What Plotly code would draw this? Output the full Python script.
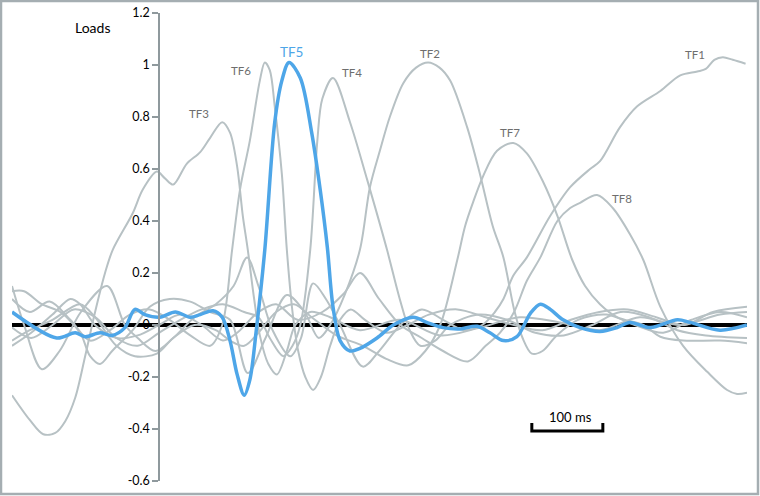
import plotly.graph_objects as go

# ---------------- data (time in ms, loads) ----------------
tf1_t = [-207,-190,-165,-140,-110,-73,-48,-30,-5,20,50,80,105,124,140,160,185,200,217,235,255,287,310,340,370,400,430,455,473,485,499,518,551,579,607,621,649,673,706,734,758,770,782,794,808,826]
tf1_v = [0.15,0.0,-0.17,-0.1,0.05,0.15,0.0,-0.05,-0.1,-0.05,0.03,0.08,0.15,0.26,0.15,-0.02,-0.12,-0.05,0.16,0.1,0.0,-0.16,-0.1,0.0,0.06,0.02,-0.02,0.0,0.05,0.1,0.19,0.26,0.42,0.53,0.6,0.63,0.76,0.84,0.9,0.96,0.975,0.985,1.02,1.03,1.02,1.005]

tf2_t = [-207,-190,-165,-139,-111,-97,-83,-66,-37,-13,15,44,72,100,125,150,180,205,225,241,262,283,297,311,325,344,362,379,395,410,434,452,470,485,500,512,525,540,560,590,630,670,710,750,790,828]
tf2_v = [0.13,0.13,0.08,0.05,-0.03,-0.12,-0.15,-0.1,-0.02,0.07,0.1,0.09,0.05,0.02,-0.185,-0.05,0.115,0.05,-0.05,0.0,0.12,0.29,0.53,0.67,0.8,0.93,0.99,1.01,0.99,0.94,0.76,0.58,0.38,0.26,0.06,-0.05,-0.11,-0.1,-0.04,0.02,0.04,0.0,-0.03,0.02,0.05,0.03]

tf3_t = [-207,-182,-163,-146,-132,-118,-104,-90,-76,-65,-37,-23,-3,8,20,39,58,72,89,100,110,118,125,134,142,154,166,180,192,213,241,283,339,396,452,508,565,621,677,734,790,828]
tf3_v = [-0.27,-0.365,-0.42,-0.415,-0.37,-0.28,-0.12,0.05,0.2,0.29,0.43,0.52,0.59,0.565,0.54,0.62,0.665,0.72,0.78,0.74,0.61,0.42,0.29,0.1,-0.04,-0.15,-0.19,-0.1,0.0,0.05,0.03,-0.02,0.02,-0.04,-0.01,0.03,0.01,-0.02,0.03,0.0,0.04,0.05]

tf4_t = [-207,-180,-150,-120,-90,-60,-30,0,30,60,90,120,140,156,175,188,199,213,223,230,245,269,293,321,339,353,368,389,410,450,490,530,570,610,650,690,730,770,828]
tf4_v = [-0.01,-0.05,0.0,0.06,0.03,-0.05,-0.08,-0.03,0.02,0.06,0.08,0.05,0.03,-0.05,-0.12,-0.08,0.0,0.29,0.71,0.87,0.95,0.78,0.56,0.29,0.1,-0.02,-0.08,-0.06,0.0,0.04,0.02,-0.03,-0.04,0.0,0.05,0.03,-0.02,-0.04,-0.05]

tf5_t = [-207,-144,-118,-104,-83,-66,-48,-34,-20,1,23,44,58,76,89,100,110,120,128,137,149,163,173,183,199,215,227,237,245,255,269,283,307,330,358,377,400,424,448,466,485,504,523,537,551,569,593,621,645,663,692,730,748,790,828]
tf5_v = [0.05,-0.05,-0.03,-0.045,-0.03,-0.04,-0.01,0.06,0.04,0.03,0.05,0.03,0.04,0.055,0.03,-0.06,-0.19,-0.27,-0.21,-0.02,0.29,0.78,0.94,1.01,0.95,0.74,0.52,0.30,0.07,-0.06,-0.10,-0.09,-0.05,0.0,0.03,0.01,-0.01,-0.015,-0.005,-0.03,-0.06,-0.045,0.045,0.08,0.06,0.02,-0.01,-0.025,-0.01,0.01,-0.01,0.02,0.01,-0.02,0.0]

tf6_t = [-207,-182,-154,-125,-97,-69,-41,-13,15,44,72,89,103,114,128,142,149,156,163,173,180,188,196,206,217,228,241,255,270,290,320,350,380,420,460,500,540,580,620,660,700,740,780,828]
tf6_v = [0.10,0.05,0.09,0.02,-0.06,-0.02,0.04,0.06,0.02,-0.04,-0.08,0.0,0.29,0.52,0.71,0.94,1.01,0.98,0.84,0.58,0.29,0.05,-0.1,-0.2,-0.25,-0.2,-0.08,0.02,0.06,0.02,-0.03,0.0,0.04,0.06,0.03,0.0,-0.02,0.02,0.05,0.06,0.03,0.0,0.05,0.07]

tf7_t = [-207,-182,-150,-111,-90,-60,-34,-3,20,50,80,100,120,140,165,190,215,250,287,320,351,375,396,420,431,442,456,476,499,518,541,561,582,600,621,645,682,706,738,790,828]
tf7_v = [-0.06,-0.02,0.02,0.08,0.03,-0.08,-0.12,-0.11,-0.05,0.0,-0.02,-0.06,-0.08,-0.03,0.05,0.08,0.03,-0.04,-0.08,-0.13,-0.155,-0.1,0.0,0.25,0.38,0.47,0.57,0.67,0.70,0.66,0.55,0.42,0.25,0.15,0.08,0.03,0.0,-0.045,-0.06,-0.06,-0.07]

tf8_t = [-207,-180,-150,-125,-111,-90,-60,-30,0,30,60,90,110,140,165,195,230,260,283,310,340,370,400,435,460,480,500,518,537,561,579,593,617,639,663,682,706,738,772,800,814,828]
tf8_v = [-0.08,-0.03,0.04,0.1,0.08,0.0,-0.05,-0.04,0.0,0.04,0.0,-0.06,-0.03,0.05,0.08,0.02,0.05,0.12,0.2,0.1,0.0,-0.05,-0.1,-0.14,-0.08,-0.03,0.05,0.17,0.26,0.40,0.45,0.47,0.50,0.45,0.35,0.25,0.07,-0.08,-0.18,-0.25,-0.265,-0.26]

y_tickvals = [-0.6, -0.4, -0.2, 0, 0.2, 0.4, 0.6, 0.8, 1.0, 1.2]
y_ticktext = ["-0.6", "-0.4", "-0.2", "0", "0.2", "0.4", "0.6", "0.8", "1", "1.2"]

scale_start_ms = 525
scale_len_ms = 100
scale_label = "100 ms"

# ---------------- layout constants ----------------
XMIN, XMAX = -207, 828
YMIN, YMAX = -0.6, 1.2
W, H = 760, 496
ML, MR, MT, MB = 12, 13, 13, 15
GRAY = "#b7c1c4"
BLUE = "#4ea6e8"
FONT = "Lato"

grays = [("TF1", tf1_t, tf1_v), ("TF2", tf2_t, tf2_v), ("TF3", tf3_t, tf3_v),
         ("TF4", tf4_t, tf4_v), ("TF6", tf6_t, tf6_v), ("TF7", tf7_t, tf7_v),
         ("TF8", tf8_t, tf8_v)]

fig = go.Figure()
for name, t, v in grays:
    assert len(t) == len(v), name
    fig.add_trace(go.Scatter(x=t, y=v, mode="lines", name=name,
                             line=dict(color=GRAY, width=2, shape="spline", smoothing=0.9),
                             hoverinfo="skip"))
assert len(tf5_t) == len(tf5_v)
fig.add_trace(go.Scatter(x=tf5_t, y=tf5_v, mode="lines", name="TF5",
                         line=dict(color=BLUE, width=3.5, shape="spline", smoothing=0.9)))

# scale bar
bar_v, tick_v = -0.408, -0.377
fig.add_trace(go.Scatter(
    x=[scale_start_ms, scale_start_ms, scale_start_ms + scale_len_ms, scale_start_ms + scale_len_ms],
    y=[tick_v, bar_v, bar_v, tick_v], mode="lines",
    line=dict(color="black", width=3), hoverinfo="skip"))

label_pos = {
    "TF3": (56, 0.815), "TF6": (115, 0.98), "TF4": (272, 0.973), "TF2": (382, 1.046),
    "TF7": (494, 0.742), "TF8": (652, 0.488), "TF1": (755, 1.042),
}
annotations = []
for name, (x, y) in label_pos.items():
    annotations.append(dict(x=x, y=y, text=name, showarrow=False,
                            font=dict(family=FONT, size=11.5, color="#6e6e6e")))
annotations.append(dict(x=186, y=1.05, text="TF5", showarrow=False,
                        font=dict(family=FONT, size=13.5, color=BLUE)))
annotations.append(dict(x=scale_start_ms + scale_len_ms / 2 + 5, y=-0.354, text=scale_label,
                        showarrow=False, font=dict(family=FONT, size=13, color="black")))
pw = W - ML - MR
ph = H - MT - MB
annotations.append(dict(xref="paper", yref="paper", x=(73 - ML) / pw, y=(H - MB - 17.5) / ph,
                        text="Loads", showarrow=False,
                        font=dict(family=FONT, size=14, color="black")))

fig.update_layout(
    width=W, height=H,
    margin=dict(l=ML, r=MR, t=MT, b=MB),
    paper_bgcolor="white", plot_bgcolor="white",
    showlegend=False,
    xaxis=dict(range=[XMIN, XMAX], visible=False),
    yaxis=dict(range=[YMIN, YMAX], anchor="free", position=(0 - XMIN) / (XMAX - XMIN),
               showline=True, linecolor="#8f999d", linewidth=1.5,
               ticks="outside", ticklen=6, tickcolor="#8f999d", tickwidth=1.5,
               tickvals=y_tickvals, ticktext=y_ticktext,
               tickfont=dict(family=FONT, size=12.5, color="black"),
               showgrid=False, zeroline=True, zerolinecolor="black", zerolinewidth=4,
               automargin=False),
    annotations=annotations,
    shapes=[dict(type="rect", xref="paper", yref="paper",
                 x0=(1 - ML) / pw, x1=(W - 2 - ML) / pw,
                 y0=(H - MB - (H - 2)) / ph, y1=(H - MB - 1) / ph,
                 line=dict(color="#a5aeb2", width=2.5), layer="above")],
)

fig.write_html("out.html", config={"displayModeBar": False},
               post_script="document.body.style.margin='0px';document.body.style.overflow='hidden';")
